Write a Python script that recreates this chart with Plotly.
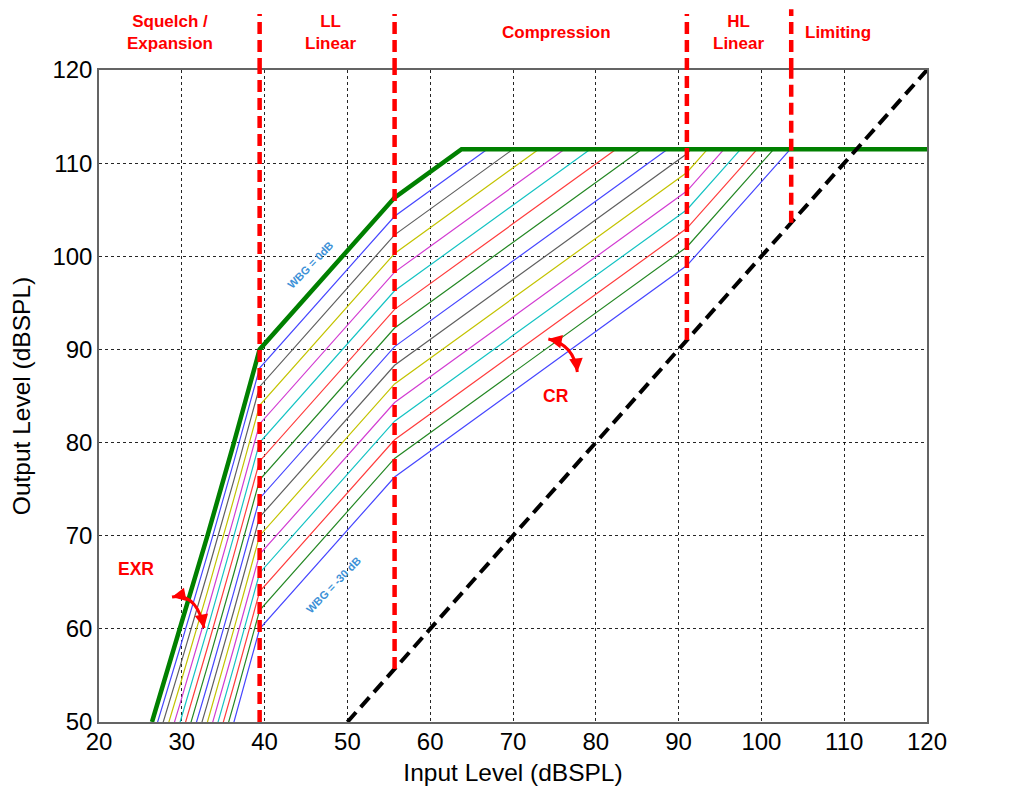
import plotly.graph_objects as go

# ---------------- data ----------------
# Input/output vertices of the WBG = 0 dB curve (before the AGCO cap)
base_in = [26.4, 29.8, 33.1, 36.3, 39.4, 55.7, 91.0, 120.0]
base_out = [50.0, 60.0, 70.0, 80.0, 90.0, 106.3, 129.0, 158.0]

# wideband gain settings (one curve per value)
wbg = [0, -2, -4, -6, -8, -10, -12, -14, -16, -18, -20, -22, -24, -26, -28, -30]

agco_level = 111.5

# region boundaries (input level, dBSPL)
boundaries = [39.4, 55.7, 91.0, 103.6]
boundary_top = [1.086, 1.086, 1.086, 1.093]   # top of red markers (y-domain fraction)

# unity (input = output) reference line
unity_in = [50, 120]
unity_out = [50, 120]

# region labels above the plot
region_labels = ["Squelch /<br>Expansion", "LL<br>Linear", "Compression", "HL<br>Linear", "Limiting"]
region_label_x = [28.6, 47.9, 75.3, 97.2, 109.3]

x_ticks = [20, 30, 40, 50, 60, 70, 80, 90, 100, 110, 120]
y_ticks = [50, 60, 70, 80, 90, 100, 110, 120]

# curved ratio arrows: start, control, end (data coords)
exr_arrow = [(28.82, 63.42), (31.78, 63.90), (32.69, 60.09)]
cr_arrow = [(74.27, 91.12), (77.35, 90.53), (77.77, 87.58)]

thin_colors = ["rgb(70,70,255)", "rgb(95,95,95)", "rgb(195,195,0)", "rgb(210,60,210)",
               "rgb(20,195,195)", "rgb(255,60,60)", "rgb(35,135,35)"]

FONT = "Arial, Liberation Sans, Helvetica, sans-serif"


def capped(xs, ys, cap):
    """Cut a polyline where it first reaches the cap level."""
    ox, oy = [xs[0]], [ys[0]]
    for i in range(1, len(xs)):
        x0, y0, x1, y1 = xs[i - 1], ys[i - 1], xs[i], ys[i]
        if y1 >= cap:
            t = (cap - y0) / (y1 - y0)
            ox.append(x0 + t * (x1 - x0))
            oy.append(cap)
            return ox, oy, True
        ox.append(x1)
        oy.append(y1)
    return ox, oy, False


fig = go.Figure()

# thin curves (WBG = -2 ... -30 dB)
for k, g in enumerate(wbg[1:]):
    ys = [v + g for v in base_out]
    cx, cy, _ = capped(base_in, ys, agco_level)
    fig.add_trace(go.Scatter(x=cx, y=cy, mode="lines",
                             line=dict(color=thin_colors[k % len(thin_colors)], width=1.2),
                             hoverinfo="skip", showlegend=False))

# thick green WBG = 0 dB curve + AGCO plateau
gx, gy, hit = capped(base_in, [v + wbg[0] for v in base_out], agco_level)
if hit:
    gx.append(x_ticks[-1])
    gy.append(agco_level)
fig.add_trace(go.Scatter(x=gx, y=gy, mode="lines",
                         line=dict(color="rgb(0,128,0)", width=4.5),
                         hoverinfo="skip", showlegend=False))

# unity line
fig.add_trace(go.Scatter(x=unity_in, y=unity_out, mode="lines",
                         line=dict(color="black", width=4, dash="13px,7px"),
                         hoverinfo="skip", showlegend=False))

shapes = []
ymin, ymax = y_ticks[0], y_ticks[-1]
for b, top in zip(boundaries, boundary_top):
    bottom = max(b, ymin)  # meets the unity line
    shapes.append(dict(type="line", xref="x", yref="y", x0=b, x1=b, y0=bottom, y1=ymax,
                       line=dict(color="rgb(255,0,0)", width=4.5, dash="12px,6px"), layer="above"))
    shapes.append(dict(type="line", xref="x", yref="y domain", x0=b, x1=b, y0=1, y1=top,
                       line=dict(color="rgb(255,0,0)", width=4.5, dash="12px,6px"), layer="above"))

for arr in (exr_arrow, cr_arrow):
    (x0, y0), (xc, yc), (x1, y1) = arr
    shapes.append(dict(type="path", xref="x", yref="y",
                       path=f"M {x0},{y0} Q {xc},{yc} {x1},{y1}",
                       line=dict(color="rgb(255,0,0)", width=3), layer="above"))

annotations = []
for txt, xv in zip(region_labels, region_label_x):
    annotations.append(dict(text=f"<b>{txt}</b>", x=xv, y=1.058, xref="x", yref="paper",
                            showarrow=False, font=dict(family=FONT, size=17, color="rgb(255,0,0)"),
                            xanchor="center", yanchor="middle"))

annotations.append(dict(text="<b>AGCO</b>", x=127.8, y=agco_level, xref="x", yref="y",
                        showarrow=False, font=dict(family=FONT, size=21, color="rgb(255,0,0)")))
annotations.append(dict(text="<b>EXR</b>", x=24.5, y=66.4, xref="x", yref="y",
                        showarrow=False, font=dict(family=FONT, size=17.5, color="rgb(255,0,0)")))
annotations.append(dict(text="<b>CR</b>", x=75.2, y=85.0, xref="x", yref="y",
                        showarrow=False, font=dict(family=FONT, size=17.5, color="rgb(255,0,0)")))
annotations.append(dict(text="<b>WBG = 0dB</b>", x=45.5, y=99.1, xref="x", yref="y",
                        showarrow=False, textangle=-46,
                        font=dict(family=FONT, size=11, color="rgb(60,145,215)")))
annotations.append(dict(text="<b>WBG = -30 dB</b>", x=48.3, y=64.7, xref="x", yref="y",
                        showarrow=False, textangle=-46,
                        font=dict(family=FONT, size=11, color="rgb(60,145,215)")))

# arrow heads at the ends of the curved arrows
for arr, (ax0, ay0, ax1, ay1) in ((exr_arrow, (10, -2, -2, -10)), (cr_arrow, (10, 2, -1, -10))):
    (x0, y0), _, (x1, y1) = arr
    for xx, yy, axp, ayp in ((x0, y0, ax0, ay0), (x1, y1, ax1, ay1)):
        annotations.append(dict(text="", x=xx, y=yy, xref="x", yref="y", showarrow=True,
                                ax=axp, ay=ayp, arrowhead=2, arrowsize=0.9, arrowwidth=3,
                                arrowcolor="rgb(255,0,0)", standoff=0, startstandoff=0))

fig.update_layout(
    width=1012, height=787,
    margin=dict(l=91, r=93, t=62, b=73, autoexpand=False),
    paper_bgcolor="white", plot_bgcolor="white",
    showlegend=False,
    shapes=shapes, annotations=annotations,
    font=dict(family=FONT, color="black"),
)
fig.update_xaxes(range=[x_ticks[0], x_ticks[-1]], tickvals=x_ticks, ticks="", automargin=False,
                 ticklabelstandoff=-3,
                 showgrid=True, gridcolor="rgba(0,0,0,0.85)", gridwidth=1, griddash="3px,3px",
                 showline=True, linecolor="rgb(100,100,100)", linewidth=1.5, mirror=True,
                 zeroline=False, tickfont=dict(size=24, family=FONT, color="black"),
                 title=dict(text="Input Level (dBSPL)", font=dict(size=24.5, family=FONT), standoff=10))
fig.update_yaxes(range=[ymin, ymax], tickvals=y_ticks, ticks="", automargin=False,
                 showgrid=True, gridcolor="rgba(0,0,0,0.85)", gridwidth=1, griddash="3px,3px",
                 showline=True, linecolor="rgb(100,100,100)", linewidth=1.5, mirror=True,
                 zeroline=False, tickfont=dict(size=24, family=FONT, color="black"),
                 title=dict(text="Output Level (dBSPL)", font=dict(size=24.5, family=FONT), standoff=20))

fig.write_html("out.html")
